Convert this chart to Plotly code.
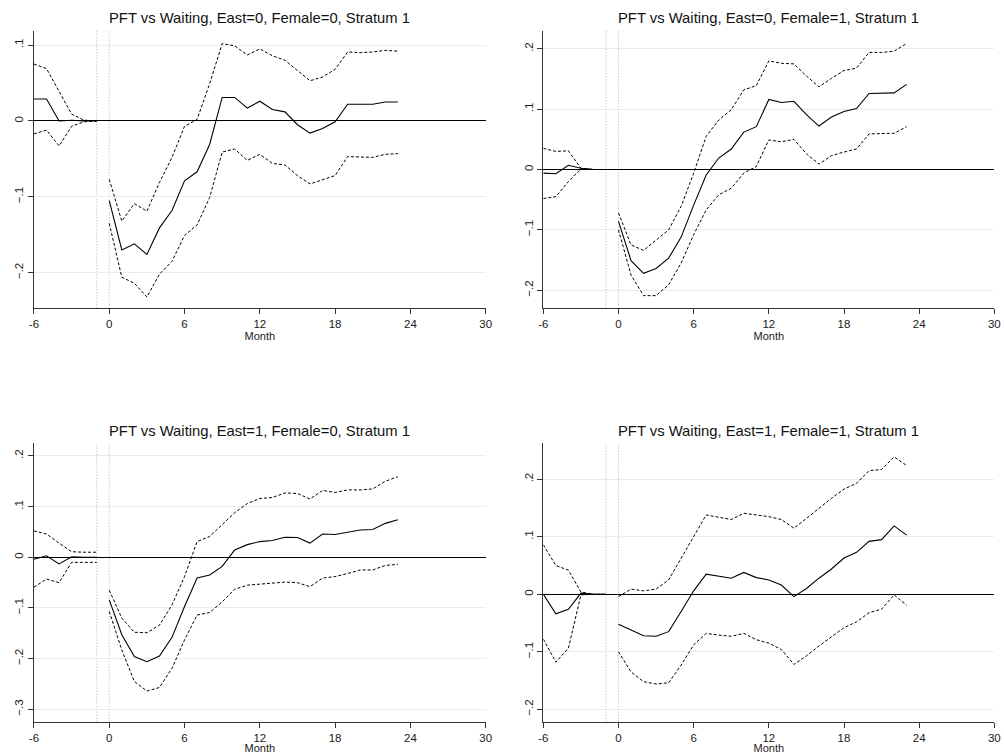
import plotly.graph_objects as go

# ---------------- data ----------------
months_pre = [-6, -5, -4, -3, -2, -1]
months_post = list(range(0, 24))

titles = [
    "PFT vs Waiting, East=0, Female=0, Stratum 1",
    "PFT vs Waiting, East=0, Female=1, Stratum 1",
    "PFT vs Waiting, East=1, Female=0, Stratum 1",
    "PFT vs Waiting, East=1, Female=1, Stratum 1",
]

# Panel 1: East=0, Female=0
p1_pre_est = [0.029, 0.029, 0.0, 0.001, 0.0, 0.0]
p1_pre_hi = [0.075, 0.069, 0.039, 0.009, 0.001, 0.0]
p1_pre_lo = [-0.017, -0.012, -0.033, -0.007, -0.001, 0.0]
p1_est = [-0.105, -0.170, -0.162, -0.176, -0.141, -0.118, -0.079, -0.067, -0.031, 0.031, 0.031, 0.017,
          0.026, 0.015, 0.012, -0.005, -0.016, -0.010, -0.001, 0.022, 0.022, 0.022, 0.025, 0.025]
p1_hi = [-0.077, -0.132, -0.109, -0.119, -0.081, -0.048, -0.007, 0.002, 0.049, 0.102, 0.099, 0.087,
         0.095, 0.086, 0.080, 0.066, 0.053, 0.058, 0.068, 0.091, 0.090, 0.091, 0.093, 0.092]
p1_lo = [-0.135, -0.206, -0.214, -0.232, -0.202, -0.185, -0.151, -0.137, -0.101, -0.041, -0.037, -0.052,
         -0.044, -0.056, -0.058, -0.072, -0.083, -0.078, -0.072, -0.047, -0.047, -0.048, -0.044, -0.043]

# Panel 2: East=0, Female=1
p2_pre_est = [-0.006, -0.007, 0.007, 0.002, 0.0, 0.0]
p2_pre_hi = [0.035, 0.030, 0.031, 0.002, 0.0, 0.0]
p2_pre_lo = [-0.048, -0.045, -0.020, 0.001, 0.0, 0.0]
p2_est = [-0.086, -0.151, -0.172, -0.164, -0.147, -0.112, -0.059, -0.009, 0.019, 0.034, 0.062, 0.071,
          0.116, 0.111, 0.113, 0.091, 0.072, 0.087, 0.096, 0.101, 0.126, 0.126, 0.127, 0.141]
p2_hi = [-0.072, -0.125, -0.134, -0.117, -0.100, -0.061, -0.006, 0.055, 0.082, 0.099, 0.132, 0.139,
         0.180, 0.176, 0.175, 0.155, 0.137, 0.151, 0.164, 0.168, 0.194, 0.194, 0.196, 0.209]
p2_lo = [-0.100, -0.175, -0.209, -0.209, -0.191, -0.155, -0.108, -0.067, -0.042, -0.031, -0.006, 0.005,
         0.049, 0.046, 0.050, 0.026, 0.009, 0.023, 0.029, 0.034, 0.059, 0.059, 0.060, 0.071]

# Panel 3: East=1, Female=0
p3_pre_est = [-0.004, 0.003, -0.013, 0.001, 0.0, 0.0]
p3_pre_hi = [0.052, 0.046, 0.028, 0.011, 0.010, 0.010]
p3_pre_lo = [-0.059, -0.043, -0.050, -0.010, -0.010, -0.010]
p3_est = [-0.084, -0.153, -0.196, -0.206, -0.195, -0.158, -0.097, -0.041, -0.035, -0.018, 0.0145, 0.025,
          0.031, 0.033, 0.0395, 0.039, 0.028, 0.046, 0.045, 0.049, 0.054, 0.055, 0.067, 0.074]
p3_hi = [-0.065, -0.120, -0.148, -0.149, -0.134, -0.094, -0.038, 0.031, 0.041, 0.064, 0.088, 0.106,
         0.116, 0.118, 0.127, 0.126, 0.115, 0.132, 0.128, 0.133, 0.133, 0.135, 0.150, 0.159]
p3_lo = [-0.107, -0.183, -0.245, -0.264, -0.257, -0.219, -0.163, -0.114, -0.109, -0.088, -0.063, -0.055,
         -0.053, -0.051, -0.049, -0.050, -0.058, -0.041, -0.038, -0.032, -0.025, -0.025, -0.016, -0.014]

# Panel 4: East=1, Female=1
p4_pre_est = [0.0, -0.034, -0.026, 0.002, 0.0, 0.0]
p4_pre_hi = [0.086, 0.050, 0.042, 0.004, 0.0, 0.0]
p4_pre_lo = [-0.078, -0.118, -0.094, -0.001, 0.0, 0.0]
p4_est = [-0.052, -0.062, -0.072, -0.073, -0.065, -0.030, 0.006, 0.035, 0.032, 0.028, 0.038, 0.029,
          0.025, 0.016, -0.004, 0.010, 0.028, 0.044, 0.063, 0.073, 0.092, 0.095, 0.119, 0.103]
p4_hi = [-0.004, 0.009, 0.006, 0.009, 0.025, 0.063, 0.099, 0.138, 0.134, 0.130, 0.141, 0.138,
         0.135, 0.130, 0.115, 0.132, 0.150, 0.167, 0.183, 0.193, 0.215, 0.217, 0.239, 0.224]
p4_lo = [-0.100, -0.135, -0.152, -0.156, -0.154, -0.123, -0.088, -0.068, -0.071, -0.073, -0.068, -0.079,
         -0.085, -0.096, -0.122, -0.107, -0.090, -0.074, -0.058, -0.048, -0.032, -0.026, -0.001, -0.019]

x_ticks = [-6, 0, 6, 12, 18, 24, 30]
y_ticks_1 = [-0.2, -0.1, 0, 0.1]
y_ticks_2 = [-0.2, -0.1, 0, 0.1, 0.2]
y_ticks_3 = [-0.3, -0.2, -0.1, 0, 0.1, 0.2]
y_ticks_4 = [-0.2, -0.1, 0, 0.1, 0.2]
y_ranges = [[-0.247, 0.119], [-0.230, 0.230], [-0.3245, 0.225], [-0.2216, 0.2626]]


def stata_label(v):
    if abs(v) < 1e-9:
        return "0"
    s = ("%.1f" % abs(v)).lstrip("0")
    return ("\u2212" + s) if v < 0 else s


panels = [
    (p1_pre_est, p1_pre_hi, p1_pre_lo, p1_est, p1_hi, p1_lo, y_ticks_1),
    (p2_pre_est, p2_pre_hi, p2_pre_lo, p2_est, p2_hi, p2_lo, y_ticks_2),
    (p3_pre_est, p3_pre_hi, p3_pre_lo, p3_est, p3_hi, p3_lo, y_ticks_3),
    (p4_pre_est, p4_pre_hi, p4_pre_lo, p4_est, p4_hi, p4_lo, y_ticks_4),
]

# ---------------- layout geometry ----------------
W, H = 1004, 754
x_doms = [[29.3 / W, 486.0 / W], [544.3 / W, 1000.3 / W]]
y_doms = [[1 - 308.3 / H, 1 - 30.7 / H], [1 - 721.7 / H, 1 - 443.3 / H]]
title_y = [1 - 18 / H, 1 - 430.5 / H]

FONT = "Liberation Sans, Arial, Helvetica, sans-serif"
fig = go.Figure()
layout = dict(
    width=W, height=H,
    margin=dict(l=0, r=0, t=0, b=0),
    paper_bgcolor="white", plot_bgcolor="white",
    showlegend=False,
    font=dict(family=FONT, size=11, color="#1a1a1a"),
    annotations=[], shapes=[],
)

for i, (pe, ph, pl, e, h, l, yt) in enumerate(panels):
    row, col = divmod(i, 2)
    k = "" if i == 0 else str(i + 1)
    xa, ya = "x" + k, "y" + k
    xs = months_pre + [None] + months_post
    for ser_pre, ser_post, dash, wdt in [(ph, h, "3px,2px", 1.0), (pl, l, "3px,2px", 1.0), (pe, e, "solid", 1.1)]:
        fig.add_trace(go.Scatter(
            x=xs, y=list(ser_pre) + [None] + list(ser_post),
            mode="lines", connectgaps=False,
            line=dict(color="black", width=wdt, dash=dash),
            xaxis=xa, yaxis=ya, hoverinfo="skip",
        ))
    layout["xaxis" + k] = dict(
        domain=x_doms[col], anchor=ya, range=[-6, 30], autorange=False,
        tickmode="array", tickvals=x_ticks, ticktext=[str(t) for t in x_ticks],
        ticks="outside", ticklen=5, tickcolor="#333", tickwidth=1,
        showline=True, linecolor="#333", linewidth=1,
        showgrid=False, zeroline=False,
        tickfont=dict(size=11.5, family=FONT, color="#1a1a1a"),
        title=dict(text="Month", font=dict(size=11, family=FONT, color="#1a1a1a"), standoff=0),
    )
    layout["yaxis" + k] = dict(
        domain=y_doms[row], anchor=xa, range=y_ranges[i], autorange=False,
        tickmode="array", tickvals=yt, ticktext=[stata_label(v) for v in yt],
        tickangle=-90,
        ticks="outside", ticklen=5, tickcolor="#333", tickwidth=1,
        showline=True, linecolor="#333", linewidth=1,
        showgrid=True, gridcolor="#ebebeb", gridwidth=1,
        zeroline=True, zerolinecolor="black", zerolinewidth=1.3,
        tickfont=dict(size=11.5, family=FONT, color="#1a1a1a"),
    )
    for xv in (-1, 0):
        layout["shapes"].append(dict(
            type="line", xref=xa, yref=ya + " domain", x0=xv, x1=xv, y0=0, y1=1,
            line=dict(color="#b4b4b4", width=1, dash="1px,2px"), layer="below",
        ))
    layout["annotations"].append(dict(
        text=titles[i], xref="paper", yref="paper",
        x=sum(x_doms[col]) / 2, y=title_y[row], xanchor="center", yanchor="middle",
        showarrow=False, font=dict(size=14.8, family=FONT, color="#111"),
    ))

fig.update_layout(**layout)
fig.write_html("out.html")
